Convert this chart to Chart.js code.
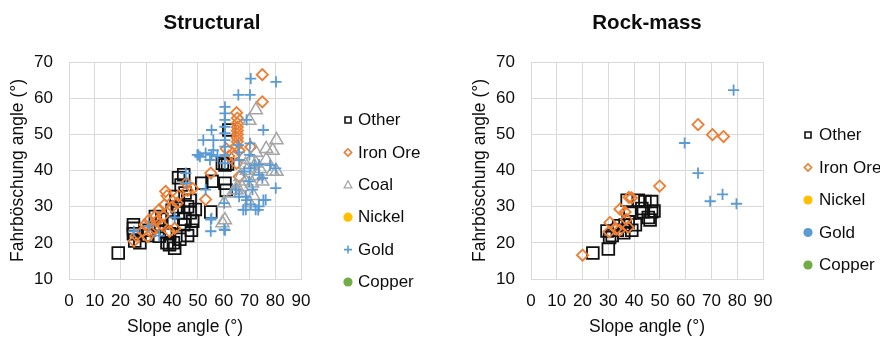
<!DOCTYPE html>
<html>
<head>
<meta charset="utf-8">
<script src="https://cdn.jsdelivr.net/npm/chart.js@4/dist/chart.umd.min.js"></script>
<style>
  html, body { margin: 0; padding: 0; background: #fff; overflow: hidden; }
  #wrap { position: relative; width: 880px; height: 338px; }
  .panel { position: absolute; top: 0; height: 338px; }
</style>
</head>
<body>
<div id="wrap">
  <div class="panel" style="left:0;width:462px"><canvas id="structural"></canvas></div>
  <div class="panel" style="left:462px;width:418px"><canvas id="rockmass"></canvas></div>
</div>
<script>
// Axis tick labels
const slopeTicks = [0, 10, 20, 30, 40, 50, 60, 70, 80, 90];
const fahrTicks = [10, 20, 30, 40, 50, 60, 70];

// Series names (legend order)
const seriesNames = ['Other', 'Iron Ore', 'Coal', 'Nickel', 'Gold', 'Copper'];

// Structural failures: [slope angle, Fahrböschung angle]
const structuralOther = [
  [19.1, 17.2], [25, 25], [25, 24], [25, 22.5], [25.5, 20.5], [27.5, 20], [30.5, 22], [31, 23.5],
  [33.5, 27.3], [34.5, 24.5], [35, 21.8], [36, 26.5], [37.5, 23], [38, 20], [39, 22.5], [40.5, 20],
  [40, 25.5], [40, 29], [41.5, 32.8], [42, 30], [42.5, 28.3], [42.5, 38], [43.5, 36], [44.5, 38.8],
  [45, 33.8], [45, 26.5], [46, 30], [47, 28.3], [47, 31.8], [48, 26], [49, 29.2], [51.5, 36.5],
  [55.5, 37], [55, 28.5], [60.5, 41.5], [61.5, 41.8], [60.5, 36.5], [61, 34.5], [62, 51.2], [59.5, 42],
  [43, 21], [44.5, 25], [47.5, 23.5], [46, 22], [41, 18.5], [39, 19.5]
];
const structuralIronOre = [
  [75, 66.5], [75, 59], [65, 56], [65.3, 54.5], [65.3, 53], [65.3, 52], [65.3, 51], [65.3, 50],
  [65.3, 49], [65.3, 48], [65, 46.8], [61, 46], [70.5, 46.5], [66, 38.3], [55, 39.3], [53, 32],
  [45.5, 36.5], [46, 34.5], [42.5, 33], [37.5, 34.2], [38, 33], [42, 31], [35, 29.2], [33.5, 27.3],
  [31, 26.3], [29.5, 25], [28.5, 23.2], [25.2, 20.5], [26, 22], [30.5, 21.7], [39, 23.2], [36.5, 27.5],
  [40, 30], [36, 25], [33, 24], [48, 35], [64, 44], [65, 42], [32, 22.8], [34, 26], [37, 30.5],
  [62, 44], [66, 45.5], [41, 24]
];
const structuralCoal = [
  [72.5, 56.7], [70, 53.8], [80.5, 48.4], [76.5, 46], [79, 45.5], [72.5, 45], [70.5, 43], [68.5, 41.6],
  [72.5, 42], [74, 40.5], [79, 39.7], [66.5, 38.3], [68.5, 37], [71, 36.5], [64.7, 34.7], [63.5, 33.8],
  [66.5, 33.8], [70, 31], [60.2, 31], [59.5, 25.5], [76.5, 43], [73, 38.5], [69, 40], [75, 37],
  [67, 35.5], [71.5, 33], [60.5, 26.3], [80.5, 39.7], [65, 34.6]
];
const structuralNickel = [];
const structuralGold = [
  [70.5, 65.4], [80.3, 64.5], [65.7, 60.9], [70.2, 60.9], [60.5, 57.6], [60.5, 55.8], [60.5, 54], [60.5, 52.1],
  [60.5, 50.3], [60.5, 48.4], [60.5, 46.6], [60.5, 44.3], [60.5, 42], [55.3, 51.2], [52.1, 48.4], [56, 48.4],
  [56, 45.6], [50.8, 43.8], [54.7, 42.9], [75.4, 51.2], [68.9, 54], [70.2, 47.5], [65.7, 47], [66, 42.9],
  [57.6, 43.9], [49.8, 44.3], [53, 44.8], [70, 44.3], [73.7, 41.6], [80.2, 40.6], [80.2, 35.1], [75, 37.9],
  [76.3, 31.9], [73.7, 30.1], [68.6, 29.2], [72.4, 29.2], [70.5, 30.6], [64.7, 34.7], [66, 32.8], [68.6, 32.8],
  [71.2, 34.7], [69.9, 37], [68, 39.7], [73.7, 38.8], [60.2, 31], [60.2, 23.7], [55, 23.2], [55, 26.4],
  [53, 34.7], [45.3, 39.3], [45.5, 36.5], [25.2, 23.2], [31, 24.6], [35, 22], [41, 27], [50.2, 44.3],
  [55.3, 44.3], [70.2, 40.6], [72, 41.5], [66, 45], [78, 41.5], [68.9, 31.8], [67.6, 29.1], [73.4, 29.1],
  [75.4, 31.8], [55.3, 26.8], [60.5, 23.5]
];
const structuralCopper = [];

// Rock-mass failures: [slope angle, Fahrböschung angle]
const rockOther = [
  [24, 17.2], [30, 18.3], [29.5, 23.3], [30.5, 21.5], [31.5, 22], [33.5, 23.5], [36, 22.8], [36.5, 24.9],
  [37.7, 25.8], [38.4, 28.2], [37.3, 31.8], [41.6, 31.8], [44.2, 31.4], [46.8, 31.4], [43.6, 28.6], [46.8, 28.6],
  [46.2, 26.3], [39.1, 23.5], [43, 29.5], [45.5, 27], [47.7, 28.8], [40.5, 25], [34, 24.7]
];
const rockIronOre = [
  [20, 16.6], [64.8, 52.7], [70.4, 49.9], [74.7, 49.4], [49.9, 35.7], [38, 32.6], [39, 32.4], [34.5, 29.3],
  [36.5, 28.5], [30.6, 25.6], [30.3, 23], [34.3, 23.5], [37.7, 24.3], [37, 26.5], [33, 23.8]
];
const rockNickel = [];
const rockGold = [
  [78.6, 62.2], [59.6, 47.6], [64.8, 39.3], [69.5, 31.5], [74.3, 33.4], [79.7, 30.8]
];
const rockCopper = [];

const FONT = '"Liberation Sans", Arial, Helvetica, sans-serif';
const TEXT = '#0d0d0d';
const GRID = '#d9d9d9';

const palette = {
  'Other':    { color: '#111111', style: 'rect',     radius: 8.3, width: 1.8 },
  'Iron Ore': { color: '#ED7D31', style: 'rectRot',  radius: 5.6, width: 1.8 },
  'Coal':     { color: '#A5A5A5', style: 'triangle', radius: 7.5, width: 1.5 },
  'Nickel':   { color: '#FFC000', style: 'circle',   radius: 5,   width: 1   },
  'Gold':     { color: '#5B9BD5', style: 'cross',    radius: 5.6, width: 1.8 },
  'Copper':   { color: '#70AD47', style: 'circle',   radius: 5,   width: 1   }
};

function toPoints(pairs) {
  return pairs.map(p => ({ x: p[0], y: p[1] }));
}

function makeDataset(name, pairs, order) {
  const s = palette[name];
  return {
    label: name,
    data: toPoints(pairs),
    order: order,
    pointStyle: s.style,
    pointRadius: s.radius,
    pointHoverRadius: s.radius,
    pointBorderWidth: s.width,
    pointBorderColor: s.color,
    pointBackgroundColor: s.style === 'circle' ? s.color : 'rgba(0,0,0,0)',
    showLine: false
  };
}

// Draws a small legend swatch
function drawSwatch(ctx, kind, color, x, y) {
  ctx.save();
  ctx.strokeStyle = color;
  ctx.fillStyle = color;
  ctx.lineWidth = 1.6;
  ctx.beginPath();
  if (kind === 'rect') {
    ctx.rect(x - 3, y - 3, 6, 6);
    ctx.stroke();
  } else if (kind === 'rectRot') {
    ctx.moveTo(x - 3.6, y); ctx.lineTo(x, y - 3.6); ctx.lineTo(x + 3.6, y); ctx.lineTo(x, y + 3.6);
    ctx.closePath();
    ctx.stroke();
  } else if (kind === 'triangle') {
    ctx.lineWidth = 1.3;
    ctx.moveTo(x, y - 4); ctx.lineTo(x + 3.8, y + 3); ctx.lineTo(x - 3.8, y + 3);
    ctx.closePath();
    ctx.stroke();
  } else if (kind === 'cross') {
    ctx.moveTo(x - 4, y); ctx.lineTo(x + 4, y);
    ctx.moveTo(x, y - 4); ctx.lineTo(x, y + 4);
    ctx.stroke();
  } else {
    ctx.arc(x, y, 4.6, 0, Math.PI * 2);
    ctx.fill();
  }
  ctx.restore();
}

// Panel title and side legend
const panelDecor = {
  id: 'panelDecor',
  afterDraw(chart, args, opts) {
    const ctx = chart.ctx;
    ctx.save();
    ctx.fillStyle = TEXT;
    ctx.textBaseline = 'middle';
    ctx.textAlign = 'center';
    ctx.font = 'bold 20.5px ' + FONT;
    ctx.fillText(opts.title, opts.titleX, opts.titleY);
    ctx.font = '17px ' + FONT;
    ctx.textAlign = 'left';
    opts.items.forEach((it, i) => {
      const y = opts.legendTop + i * opts.legendGap;
      const s = palette[it.name];
      drawSwatch(ctx, it.marker || s.style, s.color, opts.markerX, y);
      ctx.fillStyle = TEXT;
      ctx.fillText(it.name, opts.textX, y + 0.5);
    });
    ctx.restore();
  }
};

function scalesConfig() {
  const tickFont = { family: FONT, size: 17 };
  const titleFont = { family: FONT, size: 17.5 };
  return {
    x: {
      type: 'linear', min: 0, max: 90,
      afterBuildTicks: s => { s.ticks = slopeTicks.map(v => ({ value: v })); },
      afterFit: s => { s.height = 59; },
      ticks: { padding: 12, color: TEXT, font: tickFont, autoSkip: false, maxRotation: 0 },
      grid: { color: GRID, lineWidth: 1, drawTicks: false },
      border: { color: GRID, width: 1 },
      title: { display: true, text: 'Slope angle (°)', color: TEXT, font: titleFont, padding: { top: 0, bottom: 0 } }
    },
    y: {
      type: 'linear', min: 10, max: 70,
      afterBuildTicks: s => { s.ticks = fahrTicks.map(v => ({ value: v })); },
      afterFit: s => { s.width = 69; },
      ticks: { padding: 16, color: TEXT, font: tickFont },
      grid: { color: GRID, lineWidth: 1, drawTicks: false },
      border: { color: GRID, width: 1 },
      title: { display: true, text: 'Fahrböschung angle (°)', color: TEXT, font: titleFont, padding: { top: 8, bottom: 0 } }
    }
  };
}

function makeChart(id, datasets, padRight, decor) {
  return new Chart(document.getElementById(id), {
    type: 'scatter',
    data: { datasets: datasets },
    options: {
      responsive: true,
      maintainAspectRatio: false,
      animation: false,
      events: [],
      layout: { padding: { top: 62, right: padRight, bottom: 0, left: 0 } },
      scales: scalesConfig(),
      plugins: {
        legend: { display: false },
        tooltip: { enabled: false },
        title: { display: false },
        panelDecor: decor
      }
    },
    plugins: [panelDecor]
  });
}

makeChart('structural', [
  makeDataset('Other', structuralOther, 6),
  makeDataset('Iron Ore', structuralIronOre, 5),
  makeDataset('Coal', structuralCoal, 4),
  makeDataset('Nickel', structuralNickel, 3),
  makeDataset('Gold', structuralGold, 2),
  makeDataset('Copper', structuralCopper, 1)
], 161, {
  title: 'Structural', titleX: 212, titleY: 23,
  markerX: 348, textX: 358, legendTop: 120, legendGap: 32.4,
  items: seriesNames.map(n => ({ name: n }))
});

makeChart('rockmass', [
  makeDataset('Other', rockOther, 6),
  makeDataset('Iron Ore', rockIronOre, 5),
  makeDataset('Nickel', rockNickel, 3),
  makeDataset('Gold', rockGold, 2),
  makeDataset('Copper', rockCopper, 1)
], 117, {
  title: 'Rock-mass', titleX: 185, titleY: 23,
  markerX: 346, textX: 357, legendTop: 135, legendGap: 32.5,
  items: [
    { name: 'Other' }, { name: 'Iron Ore' }, { name: 'Nickel' },
    { name: 'Gold', marker: 'circle' }, { name: 'Copper' }
  ]
});
</script>
</body>
</html>
